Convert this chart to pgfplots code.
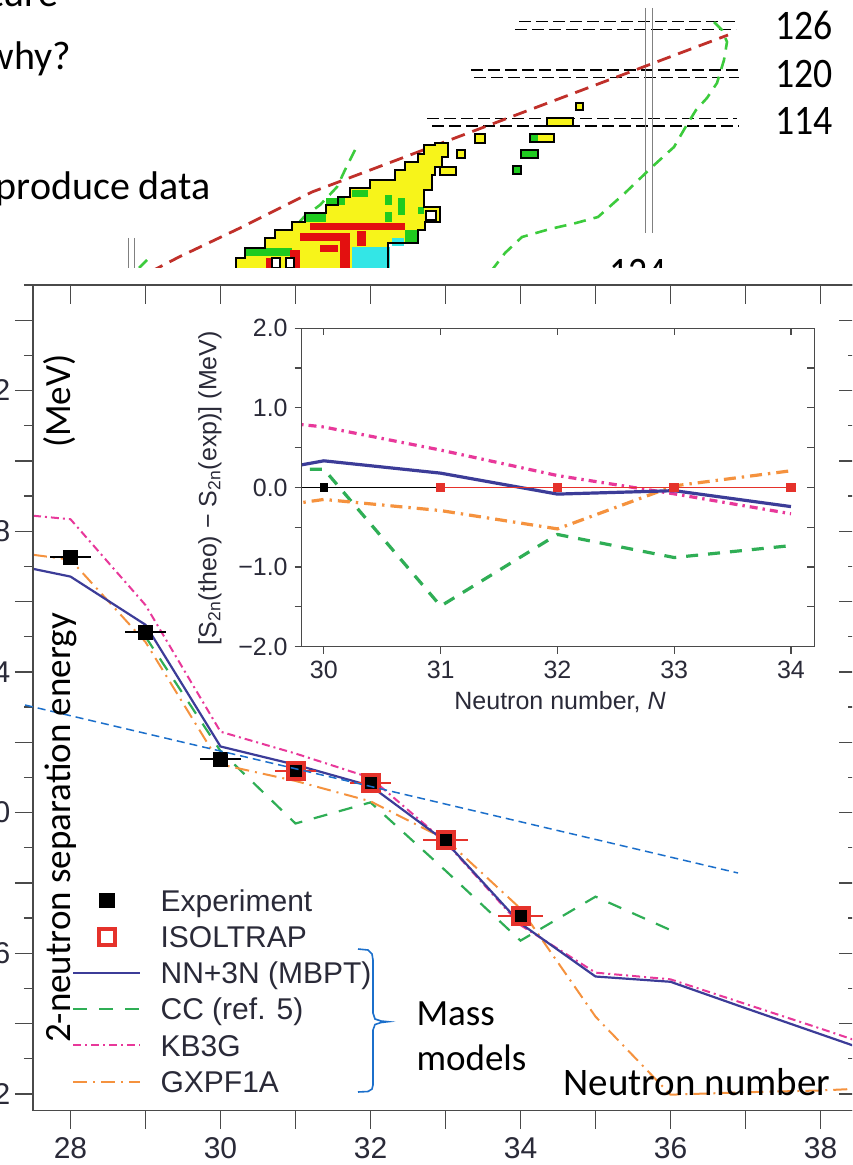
\documentclass[border=0pt]{standalone}
\usepackage{fontspec}
\setmainfont{Liberation Sans}
\newfontfamily\calibrifont{Carlito}
\usepackage{graphicx}
\usepackage{pgfplots}
\pgfplotsset{compat=1.18}
\definecolor{axg}{HTML}{4A4A4A}
\definecolor{txt}{HTML}{2A2A38}
\definecolor{nn3n}{HTML}{3C3C98}
\definecolor{ccg}{HTML}{2FAE55}
\definecolor{kbp}{HTML}{E8389A}
\definecolor{gxo}{HTML}{F5923E}
\definecolor{isor}{HTML}{E5322B}
\definecolor{offb}{HTML}{1B6FCB}
\definecolor{dred}{HTML}{C0302A}
\definecolor{lgreen}{HTML}{3CCB3C}
\definecolor{nyel}{HTML}{F7F41A}
\definecolor{ngrn}{HTML}{1FCB1F}
\definecolor{nred}{HTML}{E31010}
\definecolor{ncyan}{HTML}{33E6E6}
\pgfplotsset{pix/.style={hide axis, scale only axis, width=426pt, height=582.5pt,
  xmin=0, xmax=852, ymin=0, ymax=1165, y dir=reverse, at={(0pt,0pt)}, anchor=south west, clip=false},
  markleg/.style={legend image code/.code={\draw[##1] plot coordinates {(16.75pt,5.3pt)};}},
  lineleg/.style={legend image code/.code={\draw[##1] (0pt,5.3pt) -- (33.5pt,5.3pt);}}}
\newcommand{\cell}[5]{\addplot[draw=black, line width=0.55pt, fill=#5] coordinates {(#1,#2) (#3,#2) (#3,#4) (#1,#4)} -- cycle;}
\newcommand{\patch}[5]{\addplot[draw=none, fill=#5] coordinates {(#1,#2) (#3,#2) (#3,#4) (#1,#4)} -- cycle;}
\newcommand{\slide}{\calibrifont\fontsize{18.5}{22}\selectfont}
\begin{document}
\begin{tikzpicture}
\path[use as bounding box] (0,0) rectangle (426pt,582.5pt);
\clip (0,0) rectangle (426pt,582.5pt);
% ---------------- background slide (top) ----------------
\begin{axis}[pix]
\addplot[black, line width=0.7pt, dash pattern=on 6pt off 2.5pt] coordinates {(519,21.7)(739,21.7)};
\addplot[black, line width=0.7pt, dash pattern=on 6pt off 2.5pt] coordinates {(515,29.3)(736,29.3)};
\addplot[black, line width=0.7pt, dash pattern=on 6pt off 2.5pt] coordinates {(471,70)(739,70)};
\addplot[black, line width=0.7pt, dash pattern=on 6pt off 2.5pt] coordinates {(474,77.7)(739,77.7)};
\addplot[black, line width=0.7pt, dash pattern=on 6pt off 2.5pt] coordinates {(427,118.3)(737,118.3)};
\addplot[black, line width=0.7pt, dash pattern=on 6pt off 2.5pt] coordinates {(432,126)(739,126)};
\addplot[gray, line width=0.5pt] coordinates {(645.7,8)(645.7,233)};
\addplot[gray, line width=0.5pt] coordinates {(652.2,8)(652.2,233)};
\addplot[gray, line width=0.5pt] coordinates {(128,238)(128,272)};
\addplot[gray, line width=0.5pt] coordinates {(134,238)(134,272)};
\addplot[lgreen, line width=1.3pt, dash pattern=on 6pt off 4pt] coordinates {(714,22)(722,30)(727,42)(724,60)(717,83)(707,98)(696,110)(685,128)(674,147)(652,167)(625,193)(598,217)(576,223)(550,229)(522,237)(505,253)(492,270)};
\addplot[lgreen, line width=1.3pt, dash pattern=on 6pt off 4pt] coordinates {(355,150)(345,170)(337,187)(320,205)(304,217)(290,232)(270,248)(250,262)(243,270)};
\addplot[lgreen, line width=1.3pt, dash pattern=on 6pt off 4pt] coordinates {(139,268)(147,260)};
\addplot[dred, line width=1.4pt, dash pattern=on 7pt off 4pt] coordinates {(150,272)(179,257)(240,228)(312,192)(728,35)};
\addplot[draw=none, fill=nyel] coordinates {(236,270)(236,258)(245,258)(245,248)(265,248)(265,238)(275,238)(275,230)(292,230)(292,222)(305,222)(305,213)(326,213)(326,205)(338,205)(338,197)(350,197)(350,188)(370,188)(370,180)(395,180)(395,170)(405,170)(405,162)(418,162)(418,154)(424,154)(424,145)(435,145)(435,143)(448,143)(448,157)(442,157)(442,167)(435,167)(435,175)(432,175)(432,190)(424,190)(424,207)(440,207)(440,222)(425,222)(425,230)(418,230)(418,243)(388,243)(388,270)} -- cycle;
\patch{246}{248}{292}{256}{ngrn}
\patch{306}{214}{326}{222}{ngrn}
\patch{326}{198}{345}{205}{ngrn}
\patch{352}{190}{368}{197}{ngrn}
\patch{385}{195}{392}{205}{ngrn}
\patch{385}{212}{392}{222}{ngrn}
\patch{398}{198}{405}{215}{ngrn}
\patch{405}{230}{418}{242}{ngrn}
\patch{418}{207}{424}{214}{ngrn}
\patch{310}{223}{405}{230}{nred}
\patch{300}{233}{350}{241}{nred}
\patch{340}{241}{350}{270}{nred}
\patch{290}{250}{300}{270}{nred}
\patch{320}{245}{338}{252}{nred}
\patch{357}{231}{366}{246}{nred}
\patch{266}{258}{272}{270}{nred}
\patch{352}{247}{390}{270}{ncyan}
\patch{392}{238}{404}{246}{ncyan}
\addplot[draw=black, line width=0.8pt] coordinates {(236,270)(236,258)(245,258)(245,248)(265,248)(265,238)(275,238)(275,230)(292,230)(292,222)(305,222)(305,213)(326,213)(326,205)(338,205)(338,197)(350,197)(350,188)(370,188)(370,180)(395,180)(395,170)(405,170)(405,162)(418,162)(418,154)(424,154)(424,145)(435,145)(435,143)(448,143)(448,157)(442,157)(442,167)(435,167)(435,175)(432,175)(432,190)(424,190)(424,207)(440,207)(440,222)(425,222)(425,230)(418,230)(418,243)(388,243)(388,270)};
\cell{272}{258}{280}{268}{white}
\cell{286}{258}{294}{268}{white}
\cell{426}{211}{436}{220}{white}
\cell{440}{167}{456}{175}{nyel}
\cell{457}{150}{465}{158}{nyel}
\cell{475}{134}{485}{143}{nyel}
\cell{513}{166}{521}{174}{ngrn}
\cell{521}{150}{538}{158}{ngrn}
\cell{530}{134}{554}{142}{nyel}
\patch{531}{135}{538}{141}{ngrn}
\cell{547}{118}{573}{126}{nyel}
\cell{576}{103}{583}{110}{nyel}
\node[anchor=base east, font=\calibrifont\fontsize{20}{24}\selectfont] at (axis cs:65,7) {structure};
\node[anchor=base east, font=\calibrifont\fontsize{20}{24}\selectfont] at (axis cs:78,70) {why?};
\node[anchor=base east, font=\calibrifont\fontsize{20}{24}\selectfont] at (axis cs:218,200) {produce data};
\node[anchor=base east, font=\calibrifont\fontsize{21}{24}\selectfont] at (axis cs:840,40) {\scalebox{0.9}[1]{126}};
\node[anchor=base east, font=\calibrifont\fontsize{21}{24}\selectfont] at (axis cs:840,88) {\scalebox{0.9}[1]{120}};
\node[anchor=base east, font=\calibrifont\fontsize{21}{24}\selectfont] at (axis cs:840,135) {\scalebox{0.9}[1]{114}};
\node[anchor=base east, font=\calibrifont\fontsize{21}{24}\selectfont] at (axis cs:674,287) {\scalebox{0.9}[1]{124}};
\addplot[draw=none, fill=white] coordinates {(0,268)(852,268)(852,1165)(0,1165)} -- cycle;
\end{axis}
% ---------------- main axis ----------------
\begin{axis}[
  scale only axis, width=412.5pt, height=412.85pt,
  at={(16.5pt,27.15pt)}, anchor=south west,
  xmin=27.5, xmax=38.5, ymin=1.525, ymax=25,
  axis line style={draw=axg, line width=0.75pt},
  every tick/.style={draw=axg, line width=0.65pt},
  tick align=outside, xtick pos=bottom, ytick pos=left,
  xtick={28,...,38}, xticklabels={28,,30,,32,,34,,36,,38},
  ytick={2,4,...,24}, yticklabels={2,,6,,10,,14,,18,,22,},
  minor ytick={3,5,...,25},
  major tick length=9pt, minor tick length=4.5pt,
  ticklabel style={font=\fontsize{15}{17}\selectfont, text=txt},
  xticklabel style={yshift=-1pt},
  yticklabel style={xshift=1.2pt},
  legend style={draw=none, fill=none, at={(0.0399,0.2759)}, anchor=north west,
    cells={anchor=base west},
    nodes={inner sep=0pt, text height=12pt, text depth=4pt, font=\fontsize{15}{18}\selectfont, text=txt},
    row sep=2.1pt, column sep=9.55pt},
  lineleg,
]
\addlegendimage{markleg, only marks, mark=square*, mark size=3.6pt, color=black}
\addlegendentry{Experiment}
\addlegendimage{markleg, only marks, mark=square, mark size=4pt, color=isor, line width=2pt}
\addlegendentry{ISOLTRAP}
\addlegendimage{lineleg, nn3n, line width=1.1pt}
\addlegendentry{NN+3N (MBPT)}
\addlegendimage{lineleg, ccg, line width=1.1pt, dash pattern=on 7pt off 6pt}
\addlegendentry{CC (ref. 5)}
\addlegendimage{lineleg, kbp, line width=1pt, dash pattern=on 4pt off 2pt on 1pt off 2pt}
\addlegendentry{KB3G}
\addlegendimage{lineleg, gxo, line width=1pt, dash pattern=on 7pt off 3pt on 1pt off 3pt}
\addlegendentry{GXPF1A}
\addplot[forget plot, ccg, line width=1.1pt, dash pattern=on 7pt off 6pt] coordinates {
(29,15.0)(30,11.75)(31,9.69)(32,10.29)(33,8.35)(34,6.36)(35,7.61)(36,6.66)};
\addplot[forget plot, gxo, line width=1pt, dash pattern=on 7pt off 3pt on 1pt off 3pt] coordinates {
(27.5,17.33)(28,17.19)(29,14.85)(30,11.37)(31,10.90)(32,10.32)(33,9.24)(34,7.27)(35,4.2)(36,1.98)(37,2.05)(38,2.1)(38.5,2.15)};
\addplot[forget plot, kbp, line width=1pt, dash pattern=on 4pt off 2pt on 1pt off 2pt] coordinates {
(27.5,18.44)(28,18.34)(29,15.9)(30,12.3)(31,11.68)(32,10.99)(33,9.16)(34,6.8)(35,5.45)(36,5.26)(37,4.56)(38,3.86)(38.5,3.5)};
\addplot[forget plot, nn3n, line width=1.1pt] coordinates {
(27.5,16.93)(28,16.71)(29,15.34)(30,11.88)(31,11.36)(32,10.76)(33,9.18)(34,6.85)(35,5.34)(36,5.19)(37,4.44)(38,3.70)(38.5,3.33)};
\addplot[forget plot, only marks, mark=square*, mark size=3.6pt, color=black,
  error bars/.cd, x dir=both, x explicit, error mark=none, error bar style={line width=1.2pt, black}]
  coordinates {(28,17.26) +- (0.27,0) (29,15.13) +- (0.27,0) (30,11.52) +- (0.27,0)
  (31,11.19) +- (0.27,0) (32,10.84) +- (0.27,0) (33,9.22) +- (0.27,0) (34,7.06) +- (0.27,0)};
\addplot[forget plot, only marks, mark=square, mark size=4pt, color=isor, line width=2pt,
  error bars/.cd, x dir=both, x explicit, error mark=none, error bar style={line width=1.2pt, isor}]
  coordinates {(31,11.19) +- (0.27,0) (32,10.84) +- (0.27,0) (33,9.22) +- (0.3,0) (34,7.06) +- (0.3,0)};
\end{axis}
\begin{axis}[
  scale only axis, width=412.5pt, height=412.85pt,
  at={(16.5pt,27.15pt)}, anchor=south west,
  xmin=27.5, xmax=38.5, ymin=1.525, ymax=25,
  axis line style={draw=axg, line width=0.75pt},
  every tick/.style={draw=axg, line width=0.65pt},
  tick align=inside, xtick pos=top, ytick pos=right,
  xtick={28,...,38}, xticklabels={},
  ytick={2,4,...,24}, yticklabels={}, minor ytick={3,5,...,25},
  major tick length=9.5pt, minor tick length=5pt,
]
\end{axis}
% ---------------- inset ----------------
\begin{axis}[
  scale only axis, width=256.3pt, height=159.2pt,
  at={(150.85pt,259.15pt)}, anchor=south west,
  xmin=29.81, xmax=34.2, ymin=-2, ymax=2,
  axis background/.style={fill=white},
  axis line style={draw=axg, line width=0.7pt},
  every tick/.style={draw=axg, line width=0.6pt},
  tick align=outside, xtick pos=bottom, ytick pos=left,
  xtick={30,...,34}, xticklabels={30,31,32,33,34},
  ytick={-2,-1.5,...,2}, yticklabels={−2.0,,−1.0,,0.0,,1.0,,2.0},
  major tick length=3.5pt,
  ticklabel style={font=\fontsize{12.5}{14}\selectfont, text=txt},
  xlabel={Neutron number, \textit{N}},
  ylabel={[S\textsubscript{2n}(theo) − S\textsubscript{2n}(exp)] (MeV)},
  label style={font=\fontsize{12.5}{14}\selectfont, text=txt},
  xlabel style={at={(axis description cs:0.504,-0.174)}, anchor=center},
  ylabel style={at={(axis description cs:-0.179,0.498)}, anchor=center},
]
\addplot[ccg, line width=1.6pt, dash pattern=on 6pt off 5pt] coordinates {
(29.88,0.23)(30,0.23)(31,-1.49)(32,-0.59)(33,-0.88)(34,-0.73)};
\addplot[gxo, line width=1.6pt, dash pattern=on 6pt off 3pt on 1.2pt off 3pt] coordinates {
(29,-0.36)(30,-0.15)(31,-0.29)(32,-0.52)(33,0.02)(34,0.21)};
\addplot[kbp, line width=1.6pt, dash pattern=on 4pt off 2.5pt on 1.2pt off 2.5pt] coordinates {
(29,0.92)(30,0.76)(31,0.47)(32,0.15)(33,-0.08)(34,-0.33)};
\addplot[nn3n, line width=1.6pt] coordinates {
(29,0.07)(30,0.335)(31,0.18)(32,-0.083)(33,-0.04)(34,-0.24)};
\addplot[black, line width=0.6pt] coordinates {(29.5,0)(31,0)};
\addplot[only marks, mark=square*, mark size=1.8pt, black] coordinates {(30,0)};
\addplot[isor, line width=0.7pt, mark=square*, mark size=2pt] coordinates {(31,0)(32,0)(33,0)(34,0)};
\end{axis}
\begin{axis}[
  scale only axis, width=256.3pt, height=159.2pt,
  at={(150.85pt,259.15pt)}, anchor=south west,
  xmin=29.81, xmax=34.2, ymin=-2, ymax=2,
  axis line style={draw=axg, line width=0.7pt},
  every tick/.style={draw=axg, line width=0.6pt},
  tick align=inside, xtick pos=top, ytick pos=right,
  xtick={30,...,34}, xticklabels={},
  ytick={-2,-1.5,...,2}, yticklabels={},
  major tick length=3.5pt,
]
\end{axis}
% ---------------- slide overlays ----------------
\begin{axis}[pix]
\addplot[offb, line width=0.75pt, dash pattern=on 4pt off 2.5pt] coordinates {(25,705)(738,873)};
\addplot[offb, line width=0.8pt] coordinates {(358,949)(368,950)(372,954)(373,960)(373,1013)(375,1019)(381,1021)(388,1021.7)(381,1022.5)(375,1024.5)(373,1030)(373,1085)(372,1089)(368,1091.5)(358,1092)};
\node[anchor=base west, font=\slide] at (axis cs:409.5,1025) {Mass};
\node[anchor=base west, font=\slide] at (axis cs:409.5,1070) {models};
\node[anchor=base west, font=\calibrifont\fontsize{19.5}{22}\selectfont] at (axis cs:556.7,1095) {Neutron number};
\node[anchor=base west, rotate=90, font=\slide] at (axis cs:70,1050) {2-neutron separation energy};
\node[anchor=base west, rotate=90, font=\slide] at (axis cs:70,455) {(MeV)};
\end{axis}
\end{tikzpicture}
\end{document}
